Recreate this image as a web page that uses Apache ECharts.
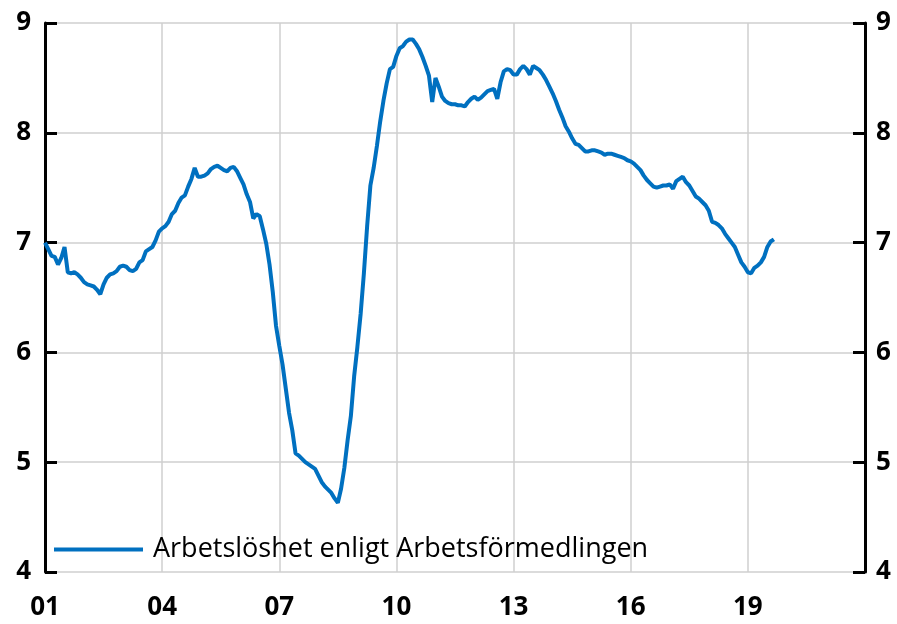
<!DOCTYPE html>
<html>
<head>
<meta charset="utf-8">
<script src="https://cdn.jsdelivr.net/npm/echarts@6/dist/echarts.min.js"></script>
<style>
  html, body { margin: 0; padding: 0; background: #fff; }
  #chart { width: 897px; height: 624px; }
</style>
</head>
<body>
<div id="chart"></div>
<script>
// monthly series, starts January 2001
const startYear = 2001;
const seriesName = 'Arbetslöshet enligt Arbetsförmedlingen';
const values = [
  // 2001
  7.00, 6.94, 6.88, 6.87, 6.80, 6.86, 6.96, 6.73, 6.72, 6.73, 6.71, 6.68,
  // 2002
  6.64, 6.62, 6.61, 6.60, 6.57, 6.53, 6.62, 6.68, 6.71, 6.72, 6.74, 6.78,
  // 2003
  6.79, 6.78, 6.75, 6.74, 6.76, 6.82, 6.84, 6.92, 6.94, 6.96, 7.02, 7.10,
  // 2004
  7.13, 7.15, 7.19, 7.26, 7.29, 7.36, 7.41, 7.43, 7.51, 7.58, 7.68, 7.60,
  // 2005
  7.60, 7.61, 7.63, 7.67, 7.69, 7.70, 7.68, 7.66, 7.65, 7.68, 7.69, 7.65,
  // 2006
  7.59, 7.53, 7.44, 7.37, 7.22, 7.26, 7.24, 7.12, 6.99, 6.80, 6.55, 6.24,
  // 2007
  6.06, 5.89, 5.67, 5.45, 5.29, 5.08, 5.06, 5.03, 5.00, 4.98, 4.96, 4.94,
  // 2008
  4.88, 4.82, 4.78, 4.75, 4.72, 4.67, 4.63, 4.76, 4.95, 5.20, 5.42, 5.78,
  // 2009
  6.05, 6.35, 6.72, 7.15, 7.52, 7.68, 7.88, 8.10, 8.29, 8.45, 8.58, 8.60,
  // 2010
  8.70, 8.77, 8.79, 8.83, 8.85, 8.85, 8.81, 8.76, 8.69, 8.61, 8.52, 8.28,
  // 2011
  8.50, 8.42, 8.33, 8.29, 8.27, 8.26, 8.26, 8.25, 8.25, 8.24, 8.28, 8.31,
  // 2012
  8.33, 8.30, 8.32, 8.35, 8.38, 8.39, 8.40, 8.31, 8.46, 8.56, 8.58, 8.57,
  // 2013
  8.53, 8.53, 8.58, 8.61, 8.58, 8.53, 8.61, 8.59, 8.57, 8.53, 8.48, 8.42,
  // 2014
  8.36, 8.29, 8.21, 8.14, 8.06, 8.01, 7.95, 7.90, 7.89, 7.86, 7.83, 7.83,
  // 2015
  7.84, 7.84, 7.83, 7.82, 7.80, 7.81, 7.81, 7.80, 7.79, 7.78, 7.77, 7.75,
  // 2016
  7.74, 7.72, 7.69, 7.66, 7.61, 7.57, 7.54, 7.51, 7.50, 7.51, 7.52, 7.52,
  // 2017
  7.53, 7.49, 7.56, 7.58, 7.60, 7.55, 7.52, 7.47, 7.42, 7.40, 7.37, 7.34,
  // 2018
  7.29, 7.19, 7.18, 7.16, 7.13, 7.08, 7.04, 7.00, 6.96, 6.89, 6.82, 6.78,
  // 2019
  6.73, 6.72, 6.77, 6.79, 6.82, 6.87, 6.96, 7.01, 7.03
];

const xMin = 2001;
const xMax = 2022;
const xStep = 3;
const yMin = 4;
const yMax = 9;

const points = values.map((v, i) => [startYear + i / 12, v]);

const chart = echarts.init(document.getElementById('chart'));

const yAxisBase = {
  type: 'value',
  min: yMin,
  max: yMax,
  interval: 1,
  axisLine: { show: true, lineStyle: { color: '#000', width: 3 } },
  axisTick: { show: true, inside: true, length: 12, lineStyle: { color: '#000', width: 3 } },
  axisLabel: {
    color: '#000',
    fontFamily: 'Open Sans',
    fontWeight: 'bold',
    fontSize: 26
  }
};

chart.setOption({
  animation: false,
  backgroundColor: '#fff',
  grid: { left: 45, right: 32, top: 23, bottom: 52 },
  legend: {
    left: 49,
    top: 531,
    icon: 'rect',
    itemWidth: 89,
    itemHeight: 4,
    data: [seriesName],
    textStyle: {
      color: '#000',
      fontFamily: 'Open Sans',
      fontSize: 27,
      padding: [0, 0, 0, 5]
    }
  },
  xAxis: {
    type: 'value',
    min: xMin,
    max: xMax,
    interval: xStep,
    axisLine: { show: false },
    axisTick: { show: false },
    splitLine: { show: true, lineStyle: { color: '#cfcfcf', width: 1.5 } },
    axisLabel: {
      showMaxLabel: false,
      margin: 23,
      color: '#000',
      fontFamily: 'Open Sans',
      fontWeight: 'bold',
      fontSize: 26,
      formatter: v => String(Math.round(v) % 100).padStart(2, '0')
    }
  },
  yAxis: [
    Object.assign({}, yAxisBase, {
      position: 'left',
      splitLine: { show: true, lineStyle: { color: '#cfcfcf', width: 1.5 } },
      axisLabel: Object.assign({}, yAxisBase.axisLabel, { margin: 14 })
    }),
    Object.assign({}, yAxisBase, {
      position: 'right',
      splitLine: { show: false },
      axisLabel: Object.assign({}, yAxisBase.axisLabel, { margin: 11 })
    })
  ],
  series: [
    {
      name: seriesName,
      type: 'line',
      data: points,
      showSymbol: false,
      symbol: 'none',
      lineStyle: { color: '#0070c0', width: 4 },
      itemStyle: { color: '#0070c0' }
    }
  ]
});
</script>
</body>
</html>
